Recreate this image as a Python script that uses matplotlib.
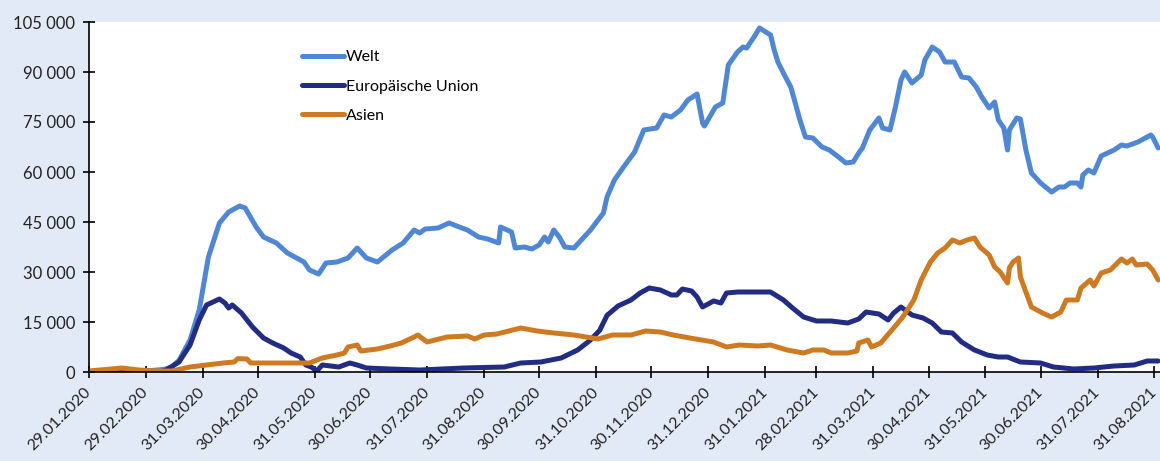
import pandas as pd
import matplotlib.pyplot as plt
import matplotlib.dates as mdates
from matplotlib.ticker import FuncFormatter

plt.rcParams['font.family'] = ['Lato', 'DejaVu Sans']

# Welt
welt_dates = [
    "2020-01-29", "2020-02-29", "2020-03-10", "2020-03-14", "2020-03-18", "2020-03-24",
    "2020-03-29", "2020-04-03", "2020-04-09", "2020-04-14", "2020-04-20", "2020-04-23",
    "2020-04-29", "2020-05-03", "2020-05-10", "2020-05-16", "2020-05-25", "2020-05-28",
    "2020-06-02", "2020-06-06", "2020-06-12", "2020-06-18", "2020-06-23", "2020-06-28",
    "2020-07-04", "2020-07-12", "2020-07-18", "2020-07-24", "2020-07-27", "2020-07-30",
    "2020-08-06", "2020-08-12", "2020-08-19", "2020-08-22", "2020-08-28", "2020-09-02",
    "2020-09-08", "2020-09-09", "2020-09-15", "2020-09-17", "2020-09-22", "2020-09-26",
    "2020-09-30", "2020-10-03", "2020-10-05", "2020-10-08", "2020-10-11", "2020-10-14",
    "2020-10-19", "2020-10-23", "2020-10-28", "2020-11-04", "2020-11-06", "2020-11-10",
    "2020-11-15", "2020-11-21", "2020-11-26", "2020-12-03", "2020-12-07", "2020-12-11",
    "2020-12-16", "2020-12-20", "2020-12-25", "2020-12-28", "2020-12-29", "2021-01-04",
    "2021-01-08", "2021-01-11", "2021-01-16", "2021-01-19", "2021-01-21", "2021-01-25",
    "2021-01-28", "2021-02-03", "2021-02-05", "2021-02-07", "2021-02-10", "2021-02-14",
    "2021-02-16", "2021-02-19", "2021-02-22", "2021-02-26", "2021-03-03", "2021-03-07",
    "2021-03-12", "2021-03-16", "2021-03-20", "2021-03-23", "2021-03-25", "2021-03-29",
    "2021-04-03", "2021-04-05", "2021-04-09", "2021-04-12", "2021-04-15", "2021-04-17",
    "2021-04-21", "2021-04-26", "2021-04-28", "2021-05-02", "2021-05-06", "2021-05-09",
    "2021-05-14", "2021-05-18", "2021-05-22", "2021-05-26", "2021-05-29", "2021-06-02",
    "2021-06-05", "2021-06-07", "2021-06-10", "2021-06-12", "2021-06-13", "2021-06-17",
    "2021-06-19", "2021-06-22", "2021-06-25", "2021-06-30", "2021-07-06", "2021-07-10",
    "2021-07-13", "2021-07-16", "2021-07-20", "2021-07-22", "2021-07-23", "2021-07-26",
    "2021-07-29", "2021-08-02", "2021-08-09", "2021-08-13", "2021-08-16", "2021-08-22",
    "2021-08-29", "2021-08-30", "2021-09-02",
]
welt_values = [
    0, 300, 800, 1500, 3500, 9600,
    18600, 34500, 44700, 48000, 49800, 49200,
    43500, 40500, 38700, 35700, 33000, 30600,
    29400, 32700, 33000, 34200, 37200, 34200,
    33000, 36600, 38700, 42600, 41700, 42900,
    43200, 44700, 43200, 42600, 40500, 39900,
    38700, 43500, 42000, 37200, 37500, 36900,
    38100, 40500, 39000, 42600, 40500, 37500,
    37200, 39600, 42600, 47700, 52500, 57600,
    61500, 66000, 72600, 73200, 77100, 76500,
    78600, 81600, 83400, 74700, 73800, 79500,
    80700, 92100, 96000, 97500, 97200, 100500,
    103200, 101100, 96600, 93000, 89700, 85500,
    81600, 75600, 70500, 70200, 67500, 66600,
    64500, 62700, 63000, 65700, 67200, 72600,
    76200, 73200, 72600, 79500, 87600, 90000,
    86700, 89100, 93600, 97500, 96000, 93000,
    93000, 88500, 88200, 85500, 82500, 79200,
    81000, 75600, 73200, 66600, 72600, 76200,
    75900, 66600, 59700, 56700, 54000, 55500,
    55500, 56700, 56700, 55500, 59100, 60600,
    59700, 64800, 66600, 68100, 67800, 69000,
    71100, 70500, 67200,
]

# Europäische Union
eu_dates = [
    "2020-01-29", "2020-03-08", "2020-03-11", "2020-03-18", "2020-03-24", "2020-03-29",
    "2020-04-02", "2020-04-09", "2020-04-12", "2020-04-14", "2020-04-16", "2020-04-21",
    "2020-04-27", "2020-05-03", "2020-05-08", "2020-05-14", "2020-05-18", "2020-05-23",
    "2020-05-26", "2020-05-29", "2020-06-01", "2020-06-04", "2020-06-13", "2020-06-19",
    "2020-06-23", "2020-06-28", "2020-07-11", "2020-07-27", "2020-08-20", "2020-09-11",
    "2020-09-20", "2020-10-01", "2020-10-12", "2020-10-21", "2020-10-28", "2020-11-02",
    "2020-11-06", "2020-11-12", "2020-11-19", "2020-11-24", "2020-11-29", "2020-12-05",
    "2020-12-11", "2020-12-14", "2020-12-17", "2020-12-22", "2020-12-25", "2020-12-28",
    "2020-12-30", "2021-01-03", "2021-01-07", "2021-01-10", "2021-01-16", "2021-01-27",
    "2021-02-03", "2021-02-10", "2021-02-15", "2021-02-21", "2021-02-28", "2021-03-08",
    "2021-03-17", "2021-03-23", "2021-03-27", "2021-04-03", "2021-04-08", "2021-04-11",
    "2021-04-15", "2021-04-21", "2021-04-27", "2021-05-02", "2021-05-07", "2021-05-13",
    "2021-05-18", "2021-05-25", "2021-06-01", "2021-06-07", "2021-06-12", "2021-06-19",
    "2021-06-30", "2021-07-07", "2021-07-18", "2021-07-29", "2021-08-09", "2021-08-20",
    "2021-08-27", "2021-09-02",
]
eu_values = [
    0, 0, 600, 3000, 8100, 15600,
    20100, 21900, 20700, 19200, 20100, 17700,
    13500, 10200, 8700, 7200, 5700, 4500,
    2100, 1500, 300, 2100, 1500, 2700,
    2100, 1200, 900, 600, 1200, 1500,
    2700, 3000, 4200, 6600, 9600, 12500,
    17000, 19800, 21600, 23700, 25200, 24600,
    23100, 23100, 24900, 24300, 22500, 19500,
    20100, 21300, 20700, 23700, 24000, 24000,
    24000, 21600, 19200, 16500, 15300, 15300,
    14700, 15900, 18000, 17400, 15600, 17700,
    19500, 17100, 16200, 14700, 12000, 11700,
    9000, 6600, 5100, 4500, 4500, 3000,
    2700, 1500, 900, 1200, 1800, 2100,
    3300, 3300,
]

# Asien
asien_dates = [
    "2020-01-29", "2020-02-16", "2020-02-25", "2020-03-06", "2020-03-14", "2020-03-24",
    "2020-04-02", "2020-04-11", "2020-04-17", "2020-04-19", "2020-04-24", "2020-04-26",
    "2020-05-08", "2020-05-21", "2020-05-28", "2020-06-04", "2020-06-12", "2020-06-16",
    "2020-06-18", "2020-06-23", "2020-06-25", "2020-07-04", "2020-07-11", "2020-07-17",
    "2020-07-24", "2020-07-26", "2020-07-31", "2020-08-11", "2020-08-22", "2020-08-26",
    "2020-08-31", "2020-09-07", "2020-09-20", "2020-09-29", "2020-10-08", "2020-10-19",
    "2020-11-01", "2020-11-09", "2020-11-19", "2020-11-27", "2020-12-05", "2020-12-12",
    "2020-12-21", "2021-01-03", "2021-01-10", "2021-01-17", "2021-01-27", "2021-02-03",
    "2021-02-12", "2021-02-21", "2021-02-26", "2021-03-04", "2021-03-08", "2021-03-17",
    "2021-03-22", "2021-03-23", "2021-03-28", "2021-03-30", "2021-04-04", "2021-04-11",
    "2021-04-16", "2021-04-22", "2021-04-26", "2021-05-01", "2021-05-05", "2021-05-09",
    "2021-05-13", "2021-05-17", "2021-05-21", "2021-05-25", "2021-05-28", "2021-06-02",
    "2021-06-05", "2021-06-08", "2021-06-12", "2021-06-13", "2021-06-15", "2021-06-18",
    "2021-06-19", "2021-06-23", "2021-06-25", "2021-07-01", "2021-07-06", "2021-07-11",
    "2021-07-14", "2021-07-20", "2021-07-22", "2021-07-27", "2021-07-29", "2021-08-02",
    "2021-08-07", "2021-08-13", "2021-08-16", "2021-08-19", "2021-08-21", "2021-08-27",
    "2021-08-30", "2021-09-02",
]
asien_values = [
    300, 1200, 600, 300, 300, 1500,
    2100, 2700, 3000, 4000, 3900, 2700,
    2700, 2700, 2700, 4200, 5100, 5700,
    7500, 8100, 6300, 6900, 7800, 8700,
    10500, 11100, 9000, 10500, 10800, 9900,
    11100, 11400, 13200, 12300, 11700, 11100,
    9900, 11100, 11100, 12300, 12000, 11100,
    10200, 9000, 7500, 8100, 7800, 8100,
    6600, 5700, 6600, 6600, 5700, 5700,
    6300, 8700, 9600, 7500, 8700, 13200,
    16500, 21600, 27600, 33000, 35700, 37200,
    39600, 38700, 39600, 40200, 37500, 35100,
    31500, 30000, 26700, 31200, 33000, 34200,
    28500, 22500, 19500, 17700, 16500, 18000,
    21600, 21600, 25200, 27600, 25800, 29700,
    30600, 33900, 32700, 33900, 32100, 32400,
    30600, 27600,
]

tick_dates = [
    "2020-01-29", "2020-02-29", "2020-03-31", "2020-04-30", "2020-05-31", "2020-06-30",
    "2020-07-31", "2020-08-31", "2020-09-30", "2020-10-31", "2020-11-30", "2020-12-31",
    "2021-01-31", "2021-02-28", "2021-03-31", "2021-04-30", "2021-05-31", "2021-06-30",
    "2021-07-31", "2021-08-31",
]
y_ticks = [0, 15000, 30000, 45000, 60000, 75000, 90000, 105000]

bg = '#E3EAF7'
fig = plt.figure(figsize=(11.6, 4.61), dpi=100, facecolor=bg)
ax = fig.add_axes([89 / 1160, 1 - 372 / 461, 1 - 89 / 1160, 350 / 461])
ax.set_facecolor('white')

ax.plot(pd.to_datetime(welt_dates), welt_values, color='#4F87D4', lw=3.6, label='Welt',
        solid_capstyle='round', solid_joinstyle='round')
ax.plot(pd.to_datetime(eu_dates), eu_values, color='#222C83', lw=3.6, label='Europäische Union',
        solid_capstyle='round', solid_joinstyle='round')
ax.plot(pd.to_datetime(asien_dates), asien_values, color='#CE7A22', lw=3.6, label='Asien',
        solid_capstyle='round', solid_joinstyle='round')

ax.set_xlim(pd.Timestamp("2020-01-29"), pd.Timestamp("2021-09-03"))
ax.set_ylim(0, 105000)

ax.set_xticks(pd.to_datetime(tick_dates))
ax.xaxis.set_major_formatter(mdates.DateFormatter('%d.%m.%Y'))
ax.set_yticks(y_ticks)
ax.yaxis.set_major_formatter(FuncFormatter(lambda v, p: f"{int(v):,}".replace(",", " ")))

for s in ['top', 'right']:
    ax.spines[s].set_visible(False)
for s in ['left', 'bottom']:
    ax.spines[s].set_color('black')
    ax.spines[s].set_linewidth(1.2)

ax.tick_params(axis='both', direction='inout', length=8, width=1.2, colors='black',
               labelsize=12, labelcolor='#222222')
ax.tick_params(axis='y', pad=6)
ax.tick_params(axis='x', labelsize=11.5, pad=9)
plt.setp(ax.get_xticklabels(), rotation=45, ha='right', va='center', rotation_mode='anchor')

ax.legend(loc='upper left', bbox_to_anchor=(302 / 1160, 1 - 50 / 461),
          bbox_transform=fig.transFigure, frameon=False, fontsize=11.5,
          handlelength=2.6, handletextpad=0.15, labelspacing=0.95,
          borderpad=0, borderaxespad=0)

fig.savefig('out.png', dpi=100, facecolor=bg)
